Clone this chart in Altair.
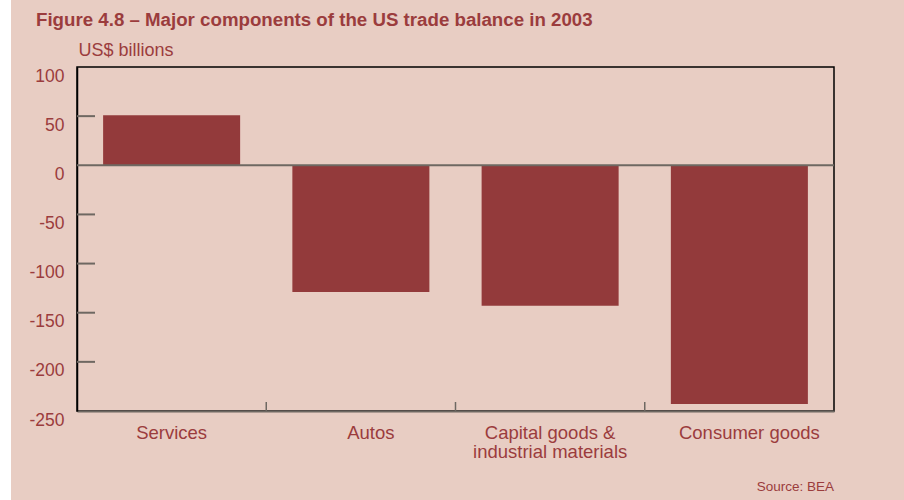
import altair as alt
import pandas as pd

categories = ["Services", "Autos", "Capital goods & industrial materials", "Consumer goods"]
values = [51, -129, -143, -243]
y_ticks = [100, 50, 0, -50, -100, -150, -200, -250]
inner_ticks = [50, -50, -100, -150, -200]
title_text = "Figure 4.8 \u2013 Major components of the US trade balance in 2003"
unit_text = "US$ billions"
source_text = "Source: BEA"

BG = "#E8CDC3"
BAR = "#933A3B"
TXT = "#9B3C3D"
GRAY = "#6E6862"
FONT = "Liberation Sans"
W, H = 757, 344
PAD = {"left": 77, "top": 67, "right": 70, "bottom": 89}
P_INNER = 0.276
GAP = W / len(categories) * P_INNER / 2

df = pd.DataFrame({"category": categories, "value": values})
sep_df = pd.DataFrame({"category": categories[:-1]})
zero_df = pd.DataFrame({"zero": [0]})
tick_df = pd.DataFrame({"tick": inner_ticks})

label_expr = ("datum.label == 'Capital goods & industrial materials' ? "
              "['Capital goods &', 'industrial materials'] : datum.label")

x_enc = alt.X(
    "category:N", sort=categories, title=None,
    scale=alt.Scale(paddingInner=P_INNER, paddingOuter=P_INNER / 2),
    axis=alt.Axis(labelAngle=0, labelFontSize=18.5, labelColor=TXT, labelFont=FONT,
                  labelPadding=12, labelLineHeight=19, labelExpr=label_expr,
                  labelOffset=alt.condition(
                      "datum.value == 'Autos' || datum.value == 'Consumer goods'",
                      alt.value(10), alt.value(0)),
                  ticks=False, domainColor=GRAY, domainWidth=2, labelBaseline="top"),
)
y_enc = alt.Y(
    "value:Q",
    scale=alt.Scale(domain=[-250, 100], nice=False, zero=False),
    axis=alt.Axis(values=y_ticks, ticks=False, grid=False, domainColor="black",
                  domainWidth=1.5, labelFontSize=17.5, labelColor=TXT, labelFont=FONT,
                  labelPadding=13, labelBaseline="top", labelExpr="datum.value + ''",
                  title=unit_text, titleAngle=0, titleAlign="left",
                  titleBaseline="alphabetic", titleX=1, titleY=-12, titleFontSize=18,
                  titleFontWeight="normal", titleColor=TXT, titleFont=FONT),
)

bars = alt.Chart(df).mark_bar(color=BAR).encode(x=x_enc, y=y_enc)

inner = alt.Chart(tick_df).mark_rule(color=GRAY, strokeWidth=2).encode(
    y="tick:Q", x=alt.value(0), x2=alt.value(18),
)

zero = alt.Chart(zero_df).mark_rule(color=GRAY, strokeWidth=2).encode(y="zero:Q")

seps = alt.Chart(sep_df).mark_rule(color=GRAY, strokeWidth=1.5, xOffset=GAP).encode(
    x=alt.X("category:N", sort=categories, bandPosition=1),
    y=alt.value(H - 9), y2=alt.value(H),
)

strip = alt.Chart(pd.DataFrame({"s": [0]})).mark_rect(color="white").encode(
    x=alt.value(-PAD["left"]), x2=alt.value(-PAD["left"] + 11),
    y=alt.value(-PAD["top"]), y2=alt.value(H + PAD["bottom"]),
)

title_t = alt.Chart(pd.DataFrame({"t": [title_text]})).mark_text(
    align="left", baseline="alphabetic", fontSize=18.7, fontWeight="bold",
    color=TXT, font=FONT,
).encode(text="t:N", x=alt.value(-41), y=alt.value(-41.5))

source_t = alt.Chart(pd.DataFrame({"t": [source_text]})).mark_text(
    align="right", baseline="alphabetic", fontSize=13.5, color=TXT, font=FONT,
).encode(text="t:N", x=alt.value(W), y=alt.value(424))

chart = alt.layer(strip, bars, inner, zero, seps, title_t, source_t).properties(
    width=W, height=H, background=BG,
    padding=PAD,
    autosize="none",
).configure_view(stroke="black", strokeWidth=1.5)

chart.save("out.html", embed_options={"renderer": "svg", "actions": False})
